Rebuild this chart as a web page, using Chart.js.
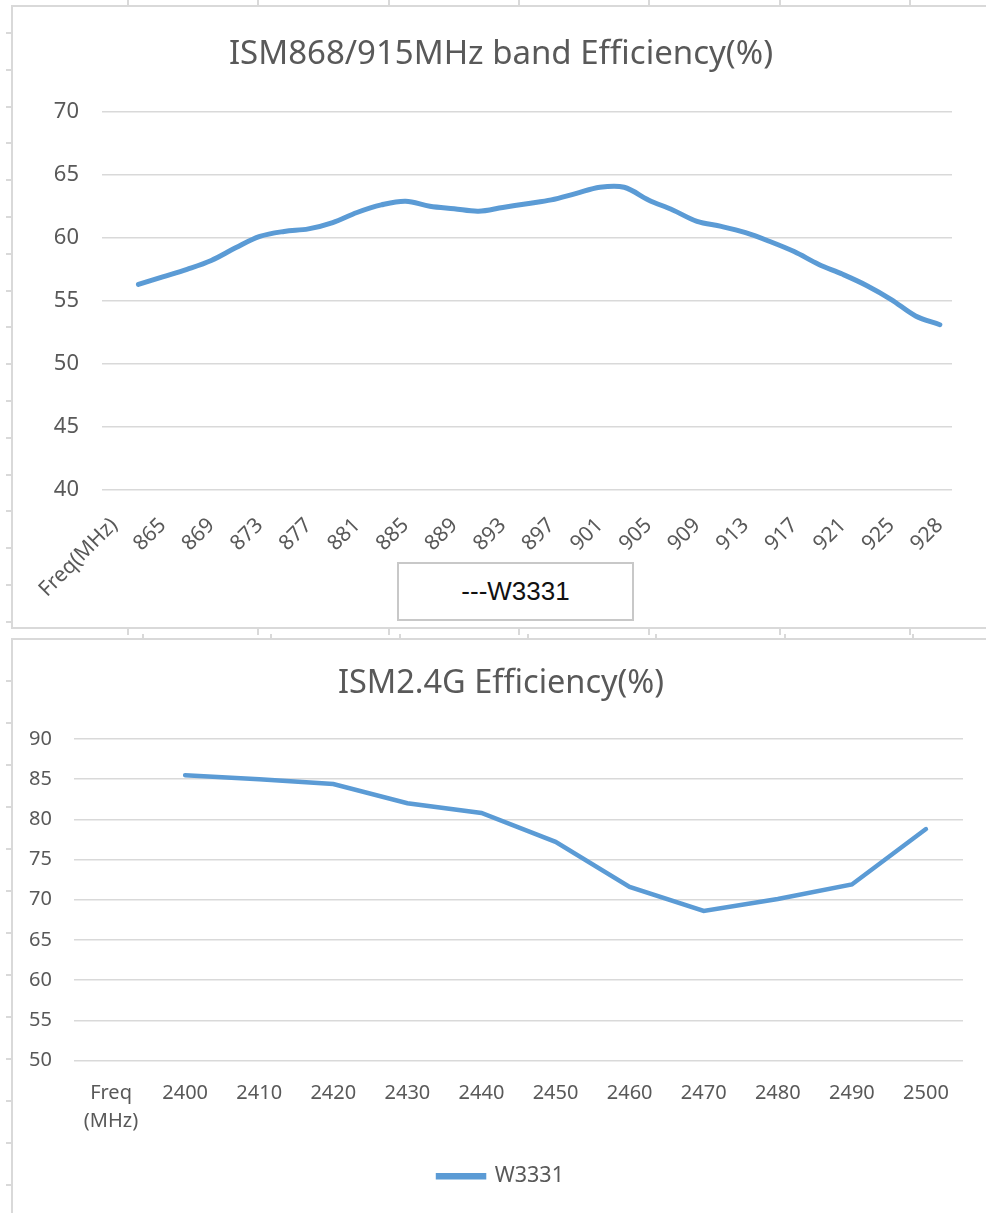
<!DOCTYPE html>
<html>
<head>
<meta charset="utf-8">
<script src="https://cdn.jsdelivr.net/npm/chart.js@4.4.1/dist/chart.umd.min.js"></script>
<style>
  html, body { margin: 0; padding: 0; background: #fff; }
  body { width: 986px; height: 1213px; position: relative; overflow: hidden; }
  canvas { position: absolute; }
  .frame { position: absolute; border: 2px solid #d9d9d9; border-right: none; pointer-events: none; }
  .mark { position: absolute; background: #d9d9d9; }
  #legendTop {
    position: absolute; left: 397px; top: 562px; width: 237px; height: 59px;
    border: 2px solid #c8c8c8; box-sizing: border-box; background: #fff;
    font: 26px 'Liberation Sans', Arial, sans-serif; color: #111;
    display: flex; align-items: center; justify-content: center;
  }
</style>
</head>
<body>
<canvas id="chartTop" width="974" height="622" style="left:12px;top:6px"></canvas>
<canvas id="chartBottom" width="974" height="574" style="left:12px;top:639px"></canvas>
<div class="frame" style="left:11px;top:5px;width:990px;height:620px"></div>
<div class="frame" style="left:11px;top:638px;width:990px;height:600px"></div>
<div id="legendTop">---W3331</div>

<script>
// ISM868/915 band
const topLabels = ['Freq(MHz)', '863', '865', '867', '869', '871', '873', '875', '877', '879', '881',
  '883', '885', '887', '889', '891', '893', '895', '897', '899', '901', '903', '905', '907', '909',
  '911', '913', '915', '917', '919', '921', '923', '925', '927', '928'];
const topValues = [null, 56.3, 56.9, 57.5, 58.2, 59.2, 60.1, 60.5, 60.7, 61.2, 62.0,
  62.6, 62.9, 62.5, 62.3, 62.1, 62.4, 62.7, 63.0, 63.5, 64.0, 64.0, 63.0, 62.2, 61.3,
  60.9, 60.4, 59.7, 58.9, 57.9, 57.1, 56.2, 55.1, 53.8, 53.1];
const topTicks = [40, 45, 50, 55, 60, 65, 70];

// ISM2.4G
const bottomLabels = [['Freq', '(MHz)'], '2400', '2410', '2420', '2430', '2440', '2450', '2460', '2470', '2480', '2490', '2500'];
const bottomValues = [null, 85.5, 85.0, 84.4, 82.0, 80.8, 77.2, 71.6, 68.6, 70.1, 71.9, 78.8];
const bottomTicks = [50, 55, 60, 65, 70, 75, 80, 85, 90];

const seriesName = 'W3331';
const blue = '#5b9bd5';
const grey = '#595959';
const fontFam = "'Noto Sans', sans-serif";

// little sheet marks round the frames
function mark(x, y, w, h) {
  const d = document.createElement('div');
  d.className = 'mark';
  d.style.cssText = 'left:' + x + 'px;top:' + y + 'px;width:' + w + 'px;height:' + h + 'px';
  document.body.appendChild(d);
}
for (let y = 32; y < 628; y += 36.8) mark(6, Math.round(y), 6, 2);
for (let y = 680; y < 1213; y += 42) mark(6, Math.round(y), 6, 2);
for (let i = 0; i < 7; i++) {
  mark(Math.round(127 + i * 130.3), 0, 2, 6);
  mark(Math.round(127 + i * 130.3), 629, 2, 6);
  mark(Math.round(142 + i * 128.3), 634, 2, 6);
}

new Chart(document.getElementById('chartTop'), {
  type: 'line',
  data: {
    labels: topLabels,
    datasets: [{
      label: seriesName,
      data: topValues,
      borderColor: blue,
      backgroundColor: blue,
      borderWidth: 5,
      tension: 0.35,
      pointRadius: 0,
      borderCapStyle: 'round',
      spanGaps: true
    }]
  },
  options: {
    responsive: false,
    animation: false,
    layout: { padding: { left: 38, right: 34, top: 0, bottom: 0 } },
    plugins: {
      legend: { display: false },
      tooltip: { enabled: false },
      title: {
        display: true,
        text: 'ISM868/915MHz band Efficiency(%)',
        color: grey,
        font: { family: fontFam, size: 33, weight: 'normal', lineHeight: 1.2 },
        padding: { top: 29, bottom: 37 }
      }
    },
    scales: {
      x: {
        offset: true,
        grid: { display: false },
        border: { display: false },
        afterFit: function(scale) { scale.height = 138; },
        ticks: {
          autoSkip: false,
          maxRotation: 45,
          minRotation: 45,
          padding: 15,
          color: grey,
          font: { family: fontFam, size: 21 },
          callback: function(val, i) { return i % 2 === 0 ? topLabels[i] : ''; }
        }
      },
      y: {
        min: topTicks[0],
        max: topTicks[topTicks.length - 1],
        afterBuildTicks: function(scale) { scale.ticks = topTicks.map(v => ({ value: v })); },
        afterFit: function(scale) { scale.width = 52; },
        border: { display: false },
        grid: { color: '#d9d9d9', lineWidth: 1.5, drawTicks: false },
        ticks: { padding: 23, color: grey, font: { family: fontFam, size: 22 } }
      }
    }
  }
});

new Chart(document.getElementById('chartBottom'), {
  type: 'line',
  data: {
    labels: bottomLabels,
    datasets: [{
      label: seriesName,
      data: bottomValues,
      borderColor: blue,
      backgroundColor: blue,
      borderWidth: 4.5,
      tension: 0,
      pointRadius: 0,
      borderCapStyle: 'round',
      spanGaps: true
    }]
  },
  options: {
    responsive: false,
    animation: false,
    layout: { padding: { left: 16, right: 12, top: 0, bottom: 16 } },
    plugins: {
      tooltip: { enabled: false },
      title: {
        display: true,
        text: 'ISM2.4G Efficiency(%)',
        color: grey,
        font: { family: fontFam, size: 32.5, weight: 'normal', lineHeight: 1.2 },
        padding: { top: 25, bottom: 36 }
      },
      legend: {
        position: 'bottom',
        labels: {
          boxWidth: 46,
          boxHeight: 2,
          padding: 10,
          color: grey,
          font: { family: fontFam, size: 21.5 }
        }
      }
    },
    scales: {
      x: {
        offset: true,
        grid: { display: false },
        border: { display: false },
        afterFit: function(scale) { scale.height = 95; },
        ticks: {
          autoSkip: false,
          maxRotation: 0,
          padding: 11,
          color: grey,
          font: { family: fontFam, size: 20, lineHeight: 1.4 }
        }
      },
      y: {
        min: bottomTicks[0],
        max: bottomTicks[bottomTicks.length - 1],
        afterBuildTicks: function(scale) { scale.ticks = bottomTicks.map(v => ({ value: v })); },
        afterFit: function(scale) { scale.width = 46; },
        border: { display: false },
        grid: { color: '#d9d9d9', lineWidth: 1.5, drawTicks: false },
        ticks: { padding: 22, color: grey, font: { family: fontFam, size: 20 } }
      },
      // empty right axis, only to keep the title centred like the original
      yRight: {
        position: 'right',
        afterFit: function(scale) { scale.width = 11; },
        border: { display: false },
        grid: { display: false },
        ticks: { display: false }
      }
    }
  }
});
</script>
</body>
</html>
